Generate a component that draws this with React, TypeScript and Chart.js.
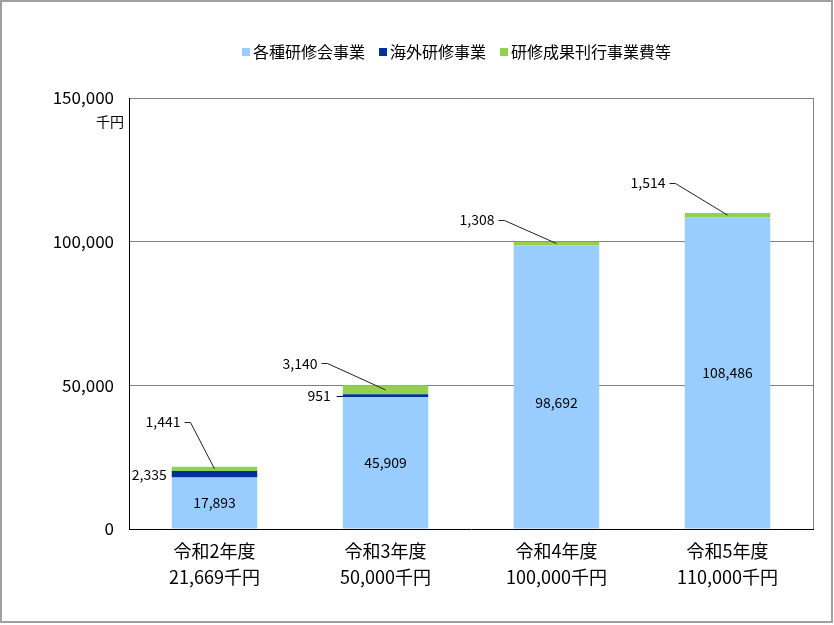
import { useEffect, useRef } from "react";
import { Chart, registerables } from "chart.js";

Chart.register(...registerables);

const categories = [
  ["令和2年度", "21,669千円"],
  ["令和3年度", "50,000千円"],
  ["令和4年度", "100,000千円"],
  ["令和5年度", "110,000千円"],
];
const seriesNames = ["各種研修会事業", "海外研修事業", "研修成果刊行事業費等"];
const seminarValues = [17893, 45909, 98692, 108486];
const overseasValues = [2335, 951, 0, 0];
const publicationValues = [1441, 3140, 1308, 1514];
const yTicks = [0, 50000, 100000, 150000];
const unitLabel = "千円";

const colors = ["#99CCFF", "#003399", "#92D050"];
const FONT = '"Noto Sans CJK JP", "Noto Sans", sans-serif';

const fmt = (v: number) => v.toLocaleString("en-US");

// label placement tweaks (pixels), like the hand-moved labels of the original
const seminarDy = [0, 0, 16, 0];
const publicationOffsets = [
  [-34, -45],
  [-68, -22],
  [-62, -22],
  [-62, -30],
];

const decorPlugin = {
  id: "decor",
  beforeDraw(chart: Chart) {
    const { ctx, width, height } = chart;
    ctx.save();
    ctx.fillStyle = "#fff";
    ctx.fillRect(0, 0, width, height);
    ctx.restore();
  },
  afterDraw(chart: Chart) {
    const { ctx, chartArea } = chart;
    const y = chart.scales.y;
    ctx.save();
    // right border of the plot area
    ctx.strokeStyle = "#808080";
    ctx.lineWidth = 1;
    ctx.beginPath();
    ctx.moveTo(Math.round(chartArea.right) + 0.5, chartArea.top);
    ctx.lineTo(Math.round(chartArea.right) + 0.5, chartArea.bottom);
    ctx.stroke();

    // outer frame
    ctx.strokeStyle = "#A0A0A0";
    ctx.lineWidth = 2;
    ctx.strokeRect(1, 1, 831, 621);

    // unit
    ctx.fillStyle = "#000";
    ctx.font = `14px ${FONT}`;
    ctx.textAlign = "right";
    ctx.textBaseline = "middle";
    ctx.fillText(unitLabel, chartArea.left - 5, y.getPixelForValue(yTicks[yTicks.length - 1]) + 24);

    // legend
    ctx.font = `16px ${FONT}`;
    ctx.textAlign = "left";
    let x = 242;
    chart.data.datasets.forEach((ds, i) => {
      ctx.fillStyle = colors[i];
      ctx.fillRect(x, 48, 8, 8);
      ctx.fillStyle = "#000";
      ctx.fillText(String(ds.label), x + 11, 52);
      x += 11 + ctx.measureText(String(ds.label)).width + 14;
    });

    // data labels
    ctx.font = `14px ${FONT}`;
    ctx.textBaseline = "middle";
    const metaA = chart.getDatasetMeta(0);
    const metaB = chart.getDatasetMeta(1);
    const metaC = chart.getDatasetMeta(2);

    metaA.data.forEach((el: any, i) => {
      ctx.textAlign = "center";
      ctx.fillText(fmt(seminarValues[i]), el.x, (el.y + el.base) / 2 + seminarDy[i]);
    });

    metaB.data.forEach((el: any, i) => {
      if (!overseasValues[i]) return;
      const left = el.x - el.width / 2;
      const cy = (el.y + el.base) / 2;
      ctx.textAlign = "right";
      if (i === 0) {
        ctx.fillText(fmt(overseasValues[i]), left - 5, cy);
      } else {
        ctx.fillText(fmt(overseasValues[i]), left - 12, cy);
        ctx.strokeStyle = "#000";
        ctx.lineWidth = 1;
        ctx.beginPath();
        ctx.moveTo(left - 6, Math.round(cy) + 0.5);
        ctx.lineTo(left, Math.round(cy) + 0.5);
        ctx.stroke();
      }
    });

    metaC.data.forEach((el: any, i) => {
      const [dx, dy] = publicationOffsets[i];
      const px = el.x;
      const py = (el.y + el.base) / 2;
      const lx = px + dx;
      const ly = el.y + dy;
      ctx.textAlign = "right";
      ctx.fillStyle = "#000";
      ctx.fillText(fmt(publicationValues[i]), lx, ly);
      ctx.strokeStyle = "#222";
      ctx.lineWidth = 1;
      ctx.beginPath();
      ctx.moveTo(lx + 4, Math.round(ly) + 0.5);
      ctx.lineTo(lx + 10, Math.round(ly) + 0.5);
      ctx.lineTo(px, py);
      ctx.stroke();
    });
    ctx.restore();
  },
};

export default function App() {
  const canvasRef = useRef<HTMLCanvasElement>(null);
  const chartRef = useRef<Chart | null>(null);

  useEffect(() => {
    document.body.style.margin = "0";
    if (!canvasRef.current) return;
    if (chartRef.current) chartRef.current.destroy();

    chartRef.current = new Chart(canvasRef.current, {
      type: "bar",
      data: {
        labels: categories,
        datasets: [
          { label: seriesNames[0], data: seminarValues, backgroundColor: colors[0] },
          { label: seriesNames[1], data: overseasValues, backgroundColor: colors[1] },
          { label: seriesNames[2], data: publicationValues, backgroundColor: colors[2] },
        ],
      },
      options: {
        responsive: true,
        maintainAspectRatio: false,
        animation: false,
        layout: { padding: { top: 98, right: 21, bottom: 0, left: 0 } },
        datasets: { bar: { barPercentage: 1, categoryPercentage: 0.5, borderWidth: 0 } },
        plugins: {
          legend: { display: false },
          tooltip: { enabled: false },
        },
        scales: {
          x: {
            stacked: true,
            grid: { display: false, drawTicks: false },
            border: { color: "#000", width: 1 },
            ticks: {
              color: "#000",
              padding: 10,
              font: { family: FONT, size: 18, lineHeight: 1.4 },
            },
            afterFit: (s: any) => {
              s.height = 96;
            },
          },
          y: {
            stacked: true,
            min: yTicks[0],
            max: yTicks[yTicks.length - 1],
            afterBuildTicks: (s: any) => {
              s.ticks = yTicks.map((v) => ({ value: v }));
            },
            grid: {
              drawTicks: false,
              color: (c: any) => (c.tick && c.tick.value === 0 ? "rgba(0,0,0,0)" : "#808080"),
            },
            border: { color: "#000", width: 1 },
            ticks: {
              color: "#000",
              padding: 15,
              font: { family: FONT, size: 17 },
              callback: (v: any) => fmt(Number(v)),
            },
            afterFit: (s: any) => {
              s.width = 129;
            },
          },
        },
      },
      plugins: [decorPlugin],
    });

    return () => {
      if (chartRef.current) {
        chartRef.current.destroy();
        chartRef.current = null;
      }
    };
  }, []);

  return (
    <div style={{ position: "relative", width: 834, height: 625 }}>
      <canvas ref={canvasRef} />
    </div>
  );
}
